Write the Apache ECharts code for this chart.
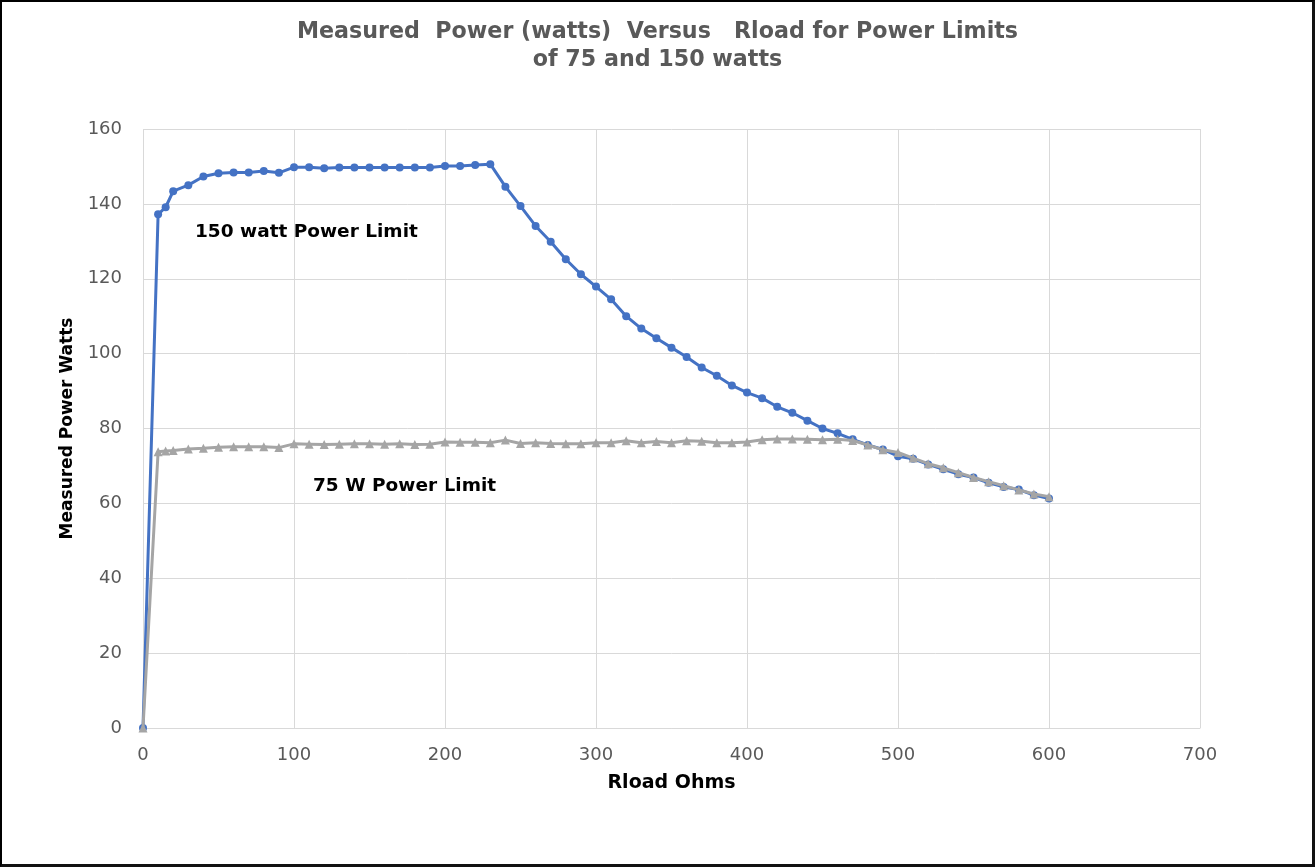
<!DOCTYPE html>
<html>
<head>
<meta charset="utf-8">
<title>Measured Power Versus Rload</title>
<script src="https://cdn.jsdelivr.net/npm/echarts@6/dist/echarts.min.js"></script>
<style>
  html, body { margin: 0; padding: 0; background: #fff; }
  #wrap { position: relative; width: 1315px; height: 867px; }
  #chart { position: absolute; left: 0; top: 0; width: 1315px; height: 867px; }
  #frame {
    position: absolute; left: 0; top: 0; width: 1315px; height: 867px;
    box-sizing: border-box; pointer-events: none;
    border-left: 2px solid #000; border-top: 2px solid #000;
    border-right: 3px solid #111; border-bottom: 3px solid #111;
  }
</style>
</head>
<body>
<div id="wrap">
  <div id="chart"></div>
  <div id="frame"></div>
</div>
<script>
// Load resistance (ohms) at which power was measured
const rloadOhms = [0, 10, 15, 20, 30, 40, 50, 60, 70, 80, 90, 100, 110, 120, 130, 140, 150, 160, 170, 180, 190,
  200, 210, 220, 230, 240, 250, 260, 270, 280, 290, 300, 310, 320, 330, 340, 350, 360, 370, 380, 390,
  400, 410, 420, 430, 440, 450, 460, 470, 480, 490, 500, 510, 520, 530, 540, 550, 560, 570, 580, 590, 600];

// Measured power (watts) with the 150 W limit
const power150 = [0, 137.2, 139.1, 143.4, 145.0, 147.3, 148.2, 148.4, 148.4, 148.8, 148.3, 149.8, 149.8, 149.5, 149.7, 149.7, 149.7, 149.7, 149.7, 149.7, 149.7,
  150.1, 150.1, 150.4, 150.6, 144.6, 139.4, 134.1, 129.9, 125.2, 121.2, 117.9, 114.5, 110.0, 106.7, 104.1, 101.6, 99.1, 96.3, 94.1, 91.5,
  89.6, 88.1, 85.8, 84.2, 82.1, 80.0, 78.7, 77.1, 75.6, 74.4, 72.6, 71.9, 70.4, 69.1, 67.8, 66.9, 65.5, 64.4, 63.7, 62.2, 61.3];

// Measured power (watts) with the 75 W limit
const power75 = [0, 73.8, 74.0, 74.1, 74.5, 74.7, 75.0, 75.1, 75.1, 75.1, 74.9, 75.9, 75.8, 75.7, 75.8, 75.9, 75.9, 75.8, 75.9, 75.7, 75.8,
  76.4, 76.3, 76.3, 76.2, 76.9, 76.0, 76.2, 76.0, 75.9, 75.9, 76.2, 76.2, 76.7, 76.2, 76.5, 76.2, 76.7, 76.6, 76.2, 76.2,
  76.4, 77.0, 77.2, 77.2, 77.1, 77.0, 77.1, 76.8, 75.6, 74.3, 73.6, 72.1, 70.6, 69.5, 68.2, 66.9, 65.8, 64.7, 63.6, 62.5, 61.8];

const titleLines = ['Measured  Power (watts)  Versus   Rload for Power Limits', 'of 75 and 150 watts'];
const xAxisName = 'Rload Ohms';
const yAxisName = 'Measured Power Watts';
const label150 = '150 watt Power Limit';
const label75 = '75 W Power Limit';

const FONT = '"DejaVu Sans", "Liberation Sans", sans-serif';

const pairs = (xs, ys) => xs.map((x, i) => [x, ys[i]]);

const chart = echarts.init(document.getElementById('chart'), null, { renderer: 'canvas' });

chart.setOption({
  animation: false,
  backgroundColor: '#ffffff',
  title: {
    text: titleLines.join('\n'),
    left: 'center',
    top: 13,
    textStyle: {
      fontFamily: FONT,
      fontSize: 22.2,
      fontWeight: 'bold',
      color: '#595959',
      lineHeight: 28
    }
  },
  grid: { left: 143, right: 115, top: 129, bottom: 139, containLabel: false },
  xAxis: {
    type: 'value',
    min: 0,
    max: 700,
    interval: 100,
    name: xAxisName,
    nameLocation: 'middle',
    nameGap: 46,
    nameTextStyle: { fontFamily: FONT, fontSize: 19, fontWeight: 'bold', color: '#000' },
    axisLine: { show: true, lineStyle: { color: '#d9d9d9', width: 1 } },
    axisTick: { show: false },
    axisLabel: { fontFamily: FONT, fontSize: 18, color: '#595959', margin: 18 },
    splitLine: { show: true, lineStyle: { color: '#d9d9d9', width: 1 } }
  },
  yAxis: {
    type: 'value',
    min: 0,
    max: 160,
    interval: 20,
    name: yAxisName,
    nameLocation: 'middle',
    nameGap: 67,
    nameRotate: 90,
    nameTextStyle: { fontFamily: FONT, fontSize: 17, fontWeight: 'bold', color: '#000' },
    axisLine: { show: false },
    axisTick: { show: false },
    axisLabel: { fontFamily: FONT, fontSize: 18, color: '#595959', margin: 21 },
    splitLine: { show: true, lineStyle: { color: '#d9d9d9', width: 1 } }
  },
  series: [
    {
      name: '150 W',
      type: 'line',
      data: pairs(rloadOhms, power150),
      symbol: 'circle',
      symbolSize: 8,
      lineStyle: { color: '#4472C4', width: 3 },
      itemStyle: { color: '#4472C4' },
      z: 2
    },
    {
      name: '75 W',
      type: 'line',
      data: pairs(rloadOhms, power75),
      symbol: 'triangle',
      symbolSize: 9,
      lineStyle: { color: '#A5A5A5', width: 3 },
      itemStyle: { color: '#A5A5A5' },
      z: 3
    }
  ],
  graphic: [
    {
      type: 'text',
      left: 195,
      top: 223,
      style: { text: label150, fontFamily: FONT, fontSize: 18.5, fontWeight: 'bold', fill: '#000' }
    },
    {
      type: 'text',
      left: 313,
      top: 477,
      style: { text: label75, fontFamily: FONT, fontSize: 18.5, fontWeight: 'bold', fill: '#000' }
    }
  ]
});
</script>
</body>
</html>
